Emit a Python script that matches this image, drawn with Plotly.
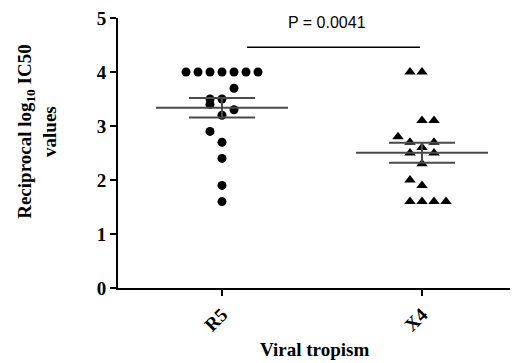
import numpy as np
import plotly.graph_objects as go

# ---- data ----
groups = ["R5", "X4"]
r5_values = [4.0, 4.0, 4.0, 4.0, 4.0, 4.0, 4.0, 3.7, 3.5, 3.5, 3.4, 3.3, 3.2, 2.9, 2.7, 2.4, 1.9, 1.6]
r5_jitter = [-3, -2, -1, 0, 1, 2, 3, 1, -1, 0, -1, 1, 0, -1, 0, 0, 0, 0]
x4_values = [4.0, 4.0, 3.1, 3.1, 2.8, 2.7, 2.7, 2.6, 2.5, 2.5, 2.3, 2.0, 1.9, 1.6, 1.6, 1.6, 1.6]
x4_jitter = [-1, 0, 0, 1, -2, -1, 1, 0, -1, 1, 0, -1, 0, -1, 0, 1, 2]
p_label = "P = 0.0041"
y_ticks = [0, 1, 2, 3, 4, 5]

# ---- style constants ----
STEP = 0.06
MEAN_HW = 0.33
SEM_HW = 0.165
SERIF = "Liberation Serif"
LINE_COL = "#4a4a4a"

fig = go.Figure()

series = [
    (r5_values, r5_jitter, "circle", 9),
    (x4_values, x4_jitter, "triangle-up", 10),
]

for gi, (vals, jit, sym, sz) in enumerate(series):
    vals = np.array(vals)
    xs = gi + np.array(jit) * STEP
    fig.add_trace(go.Scatter(
        x=xs, y=vals, mode="markers",
        marker=dict(symbol=sym, size=sz, color="black", line=dict(width=0)),
        showlegend=False, cliponaxis=False))
    m = vals.mean()
    sem = vals.std(ddof=1) / np.sqrt(len(vals))
    fig.add_trace(go.Scatter(x=[gi - MEAN_HW, gi + MEAN_HW], y=[m, m], mode="lines",
                             line=dict(color=LINE_COL, width=2), showlegend=False, cliponaxis=False))
    for v in (m - sem, m + sem):
        fig.add_trace(go.Scatter(x=[gi - SEM_HW, gi + SEM_HW], y=[v, v], mode="lines",
                                 line=dict(color=LINE_COL, width=2), showlegend=False))
    fig.add_trace(go.Scatter(x=[gi, gi], y=[m - sem, m + sem], mode="lines",
                             line=dict(color=LINE_COL, width=2), showlegend=False))

# significance bracket
fig.add_trace(go.Scatter(x=[0.125, 0.99], y=[4.46, 4.46], mode="lines",
                         line=dict(color="black", width=1.5), showlegend=False))
fig.add_annotation(x=0.525, y=4.91, xref="x", yref="y", text=p_label, showarrow=False,
                   font=dict(family="Liberation Sans", size=16, color="black"))

# axis titles
fig.add_annotation(x=-0.207, y=0.578, xref="paper", yref="paper",
                   text="Reciprocal log<sub>10</sub> IC50<br>values", textangle=-90,
                   showarrow=False, xanchor="center", yanchor="middle",
                   font=dict(family=SERIF, size=19, color="black", weight="bold"))
fig.add_annotation(x=0.5, y=-0.2296, xref="paper", yref="paper", text="Viral tropism",
                   showarrow=False, xanchor="center", yanchor="middle",
                   font=dict(family=SERIF, size=19, color="black", weight="bold"))

axis_common = dict(showline=True, linecolor="black", linewidth=2, ticks="outside",
                   ticklen=6, tickwidth=2, tickcolor="black", showgrid=False, zeroline=False,
                   tickfont=dict(family=SERIF, size=19, color="black", weight="bold"))

fig.update_layout(
    width=512, height=363,
    margin=dict(l=118, r=2, t=18, b=75),
    plot_bgcolor="white", paper_bgcolor="white",
    xaxis=dict(range=[-0.52, 1.44], tickvals=[0, 1], ticktext=groups, tickangle=-45, **axis_common),
    yaxis=dict(range=[0, 5], tickvals=y_ticks, **axis_common),
)

fig.write_html("out.html")
